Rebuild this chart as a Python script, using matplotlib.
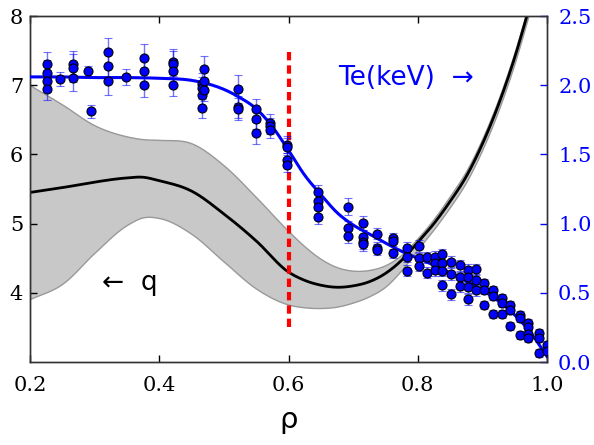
import matplotlib
matplotlib.use("Agg")
import matplotlib.pyplot as plt
import numpy as np

# ---- q profile (left axis) ----
q_rho = [0.2, 0.25, 0.3, 0.35, 0.375, 0.4, 0.45, 0.5, 0.55, 0.6, 0.625, 0.65, 0.675,
         0.7, 0.725, 0.75, 0.775, 0.8, 0.825, 0.85, 0.875, 0.9, 0.925, 0.95, 0.975, 1.0]
q_mid = [5.45, 5.52, 5.60, 5.66, 5.67, 5.62, 5.47, 5.14, 4.75, 4.30, 4.18, 4.11, 4.08,
         4.10, 4.16, 4.28, 4.47, 4.73, 5.00, 5.32, 5.68, 6.15, 6.72, 7.40, 8.20, 9.00]
q_up = [7.00, 6.72, 6.42, 6.26, 6.22, 6.21, 6.16, 5.84, 5.38, 4.89, 4.67, 4.49, 4.37,
        4.32, 4.33, 4.40, 4.55, 4.79, 5.07, 5.40, 5.76, 6.23, 6.80, 7.48, 8.28, 9.08]
q_lo = [3.91, 4.13, 4.58, 4.98, 5.09, 5.08, 4.85, 4.45, 4.06, 3.83, 3.79, 3.78, 3.80,
        3.86, 3.95, 4.09, 4.33, 4.63, 4.92, 5.24, 5.60, 6.07, 6.64, 7.32, 8.12, 8.92]

# ---- Te fit (right axis) ----
fit_rho = [0.2, 0.25, 0.3, 0.35, 0.4, 0.45, 0.475, 0.5, 0.525, 0.55, 0.575, 0.6, 0.625,
           0.65, 0.675, 0.7, 0.725, 0.75, 0.775, 0.8, 0.825, 0.85, 0.875, 0.9, 0.925,
           0.95, 0.975, 1.0]
fit_te = [2.06, 2.06, 2.055, 2.055, 2.05, 2.035, 2.01, 1.97, 1.91, 1.83, 1.70, 1.53, 1.35,
          1.21, 1.08, 0.99, 0.925, 0.86, 0.80, 0.75, 0.70, 0.645, 0.585, 0.52, 0.44,
          0.34, 0.21, 0.04]

# ---- Te measurements ----
te_rho = [0.227, 0.227, 0.227, 0.227, 0.247, 0.267, 0.267, 0.267, 0.289, 0.295,
          0.320, 0.320, 0.320, 0.348, 0.377, 0.377, 0.377,
          0.421, 0.421, 0.421, 0.421, 0.466, 0.466, 0.466, 0.466, 0.470, 0.470, 0.470,
          0.522, 0.522, 0.522, 0.550, 0.550, 0.550, 0.571, 0.571, 0.571,
          0.598, 0.598, 0.598, 0.598, 0.646, 0.646, 0.646, 0.646,
          0.692, 0.692, 0.692, 0.715, 0.715, 0.715, 0.715, 0.737, 0.737, 0.737,
          0.762, 0.762, 0.762, 0.784, 0.784, 0.784, 0.802, 0.802, 0.802, 0.814, 0.814,
          0.827, 0.827, 0.827, 0.838, 0.838, 0.838, 0.838, 0.851, 0.851, 0.851,
          0.865, 0.865, 0.865, 0.878, 0.878, 0.878, 0.878, 0.890, 0.890, 0.890,
          0.902, 0.902, 0.902, 0.916, 0.916, 0.916, 0.930, 0.930, 0.930,
          0.943, 0.943, 0.943, 0.958, 0.958, 0.958, 0.971, 0.971, 0.971, 0.971,
          0.987, 0.987, 0.987, 1.000, 1.000]
te_val = [2.15, 2.09, 2.03, 1.97, 2.045, 2.15, 2.125, 2.055, 2.10, 1.81,
          2.24, 2.14, 2.03, 2.06, 2.20, 2.10, 2.005,
          2.17, 2.155, 2.10, 2.00, 2.01, 1.98, 1.93, 1.835, 2.12, 2.03, 1.965,
          1.975, 1.845, 1.83, 1.83, 1.754, 1.657, 1.73, 1.705, 1.676,
          1.57, 1.555, 1.46, 1.42, 1.226, 1.166, 1.118, 1.05,
          1.122, 0.968, 0.91, 1.002, 0.905, 0.87, 0.853, 0.927, 0.826, 0.81,
          0.894, 0.876, 0.785, 0.826, 0.761, 0.66, 0.838, 0.749, 0.694, 0.756, 0.645,
          0.761, 0.713, 0.665, 0.78, 0.717, 0.66, 0.556, 0.725, 0.636, 0.491,
          0.70, 0.612, 0.549, 0.665, 0.616, 0.54, 0.453, 0.67, 0.593, 0.52,
          0.573, 0.52, 0.412, 0.52, 0.477, 0.347, 0.46, 0.428, 0.347,
          0.412, 0.376, 0.262, 0.34, 0.316, 0.195, 0.28, 0.255, 0.20, 0.171,
          0.207, 0.171, 0.063, 0.123, 0.082]
te_err = [0.09, 0.09, 0.08, 0.08, 0.05, 0.10, 0.10, 0.10, 0.04, 0.05,
          0.10, 0.10, 0.10, 0.06, 0.10, 0.10, 0.09,
          0.09, 0.09, 0.09, 0.08, 0.08, 0.08, 0.08, 0.07, 0.09, 0.08, 0.08,
          0.10, 0.08, 0.08, 0.07, 0.07, 0.08, 0.06, 0.06, 0.06,
          0.06, 0.06, 0.05, 0.05, 0.05, 0.05, 0.05, 0.05,
          0.06, 0.05, 0.05, 0.05, 0.05, 0.05, 0.05, 0.04, 0.04, 0.04,
          0.04, 0.04, 0.03, 0.04, 0.04, 0.04, 0.04, 0.04, 0.04, 0.04, 0.04,
          0.04, 0.04, 0.04, 0.04, 0.04, 0.04, 0.04, 0.04, 0.04, 0.04,
          0.04, 0.04, 0.04, 0.04, 0.04, 0.04, 0.04, 0.04, 0.04, 0.04,
          0.03, 0.03, 0.03, 0.03, 0.03, 0.03, 0.03, 0.03, 0.03,
          0.03, 0.03, 0.03, 0.03, 0.03, 0.03, 0.03, 0.03, 0.03, 0.03,
          0.03, 0.03, 0.03, 0.03, 0.03]

x_ticks = [0.2, 0.4, 0.6, 0.8, 1.0]
q_ticks = [4, 5, 6, 7, 8]
te_ticks = [0.0, 0.5, 1.0, 1.5, 2.0, 2.5]
rho_mark = 0.6

serif = "DejaVu Serif"
spine_c = "#333333"


def smooth_path(x, y, n=16):
    """Draw a smooth cubic Hermite path through the given knots."""
    x = np.asarray(x, float)
    y = np.asarray(y, float)
    h = np.diff(x)
    d = np.diff(y) / h
    m = np.empty_like(y)
    m[1:-1] = (d[:-1] * h[1:] + d[1:] * h[:-1]) / (h[:-1] + h[1:])
    m[0], m[-1] = d[0], d[-1]
    xs, ys = [], []
    t = np.linspace(0, 1, n, endpoint=False)
    h00 = 2 * t**3 - 3 * t**2 + 1
    h10 = t**3 - 2 * t**2 + t
    h01 = -2 * t**3 + 3 * t**2
    h11 = t**3 - t**2
    for i in range(len(h)):
        xs.append(x[i] + t * h[i])
        ys.append(h00 * y[i] + h10 * h[i] * m[i] + h01 * y[i + 1] + h11 * h[i] * m[i + 1])
    xs.append([x[-1]])
    ys.append([y[-1]])
    return np.concatenate(xs), np.concatenate(ys)


fig = plt.figure(figsize=(5.94, 4.45), dpi=100)
ax = fig.add_axes([30 / 594, 1 - 362 / 445, 517 / 594, 346 / 445])
ax2 = ax.twinx()

# q band and curve
bx, bu = smooth_path(q_rho, q_up)
_, bl = smooth_path(q_rho, q_lo)
mx, mq = smooth_path(q_rho, q_mid)
ax.fill_between(bx, bl, bu, facecolor="#c8c8c8", edgecolor="#999999", lw=1.0, zorder=1)
ax.plot(mx, mq, color="black", lw=2.0, zorder=2)
ax.vlines(rho_mark, 3.5, 7.5, colors="red", lw=3.0, linestyles=(0, (2, 1.2)), zorder=3)

ax.set_xlim(0.2, 1.0)
ax.set_ylim(3.0, 8.0)
ax.set_xticks(x_ticks)
ax.set_xticklabels([f"{v:.1f}" for v in x_ticks], fontfamily=serif, fontsize=15)
ax.set_yticks(q_ticks)
ax.set_yticklabels([str(v) for v in q_ticks], fontfamily=serif, fontsize=15)
ax.tick_params(axis="x", direction="in", top=True, length=5, width=1, pad=10, colors="black")
ax.tick_params(axis="y", direction="in", left=True, right=False, length=5, width=1, pad=5)
ax.set_xlabel("ρ", fontsize=21, labelpad=8)

# Te data
ax2.errorbar(te_rho, te_val, yerr=te_err, fmt="o", color="blue", ms=6.5,
             mfc="blue", mec="black", mew=0.8, ecolor=(0, 0, 1, 0.55), elinewidth=1.0,
             capsize=3, capthick=1.0, zorder=4)
fx, ft = smooth_path(fit_rho, fit_te)
ax2.plot(fx, ft, color="blue", lw=2.2, zorder=3)
ax2.set_ylim(0.0, 2.5)
ax2.set_yticks(te_ticks)
ax2.set_yticklabels([f"{v:.1f}" for v in te_ticks], fontfamily=serif, fontsize=15, color="blue")
ax2.tick_params(axis="y", direction="in", length=5, width=1, pad=8, colors="blue")

for a in (ax, ax2):
    for s in a.spines.values():
        s.set_color(spine_c)
        s.set_linewidth(1.0)

ax.text(0.677, 7.0, "Te(keV)  →", color="blue", fontsize=19, va="baseline", ha="left", zorder=6)
ax.text(0.311, 4.04, "←  q", color="black", fontsize=19, va="baseline", ha="left", zorder=6)

fig.savefig("out.png", dpi=100)
